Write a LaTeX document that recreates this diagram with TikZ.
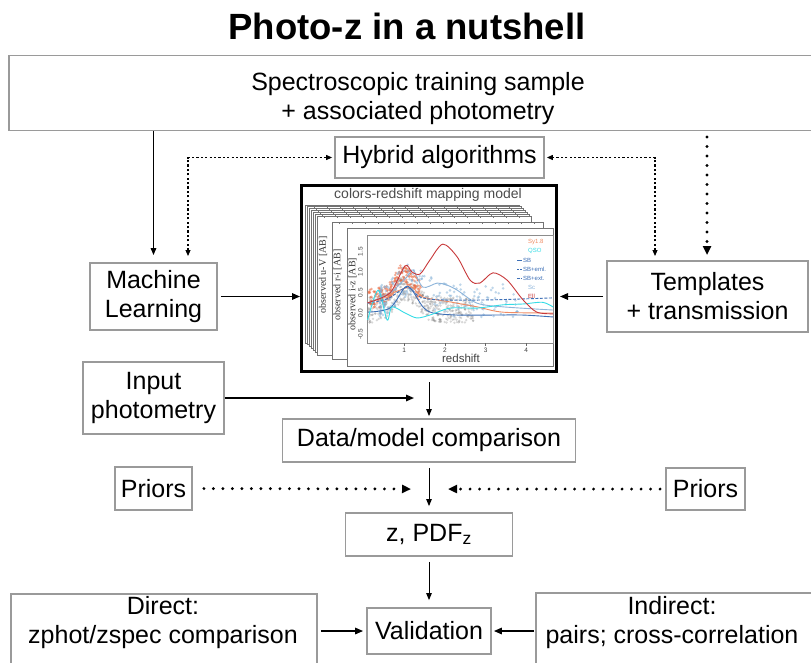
\documentclass[tikz,border=0pt]{standalone}
\usepackage{fontspec}
\setmainfont{Liberation Sans}
\newfontfamily\serifaxis{Liberation Serif}
\usetikzlibrary{arrows.meta,calc}
\definecolor{boxgray}{HTML}{9A9A9A}
\definecolor{ellred}{HTML}{C8393B}
\definecolor{qsocyan}{HTML}{35DCE6}
\definecolor{sbblue}{HTML}{3D6FB6}
\definecolor{scblue}{HTML}{8DB4DA}
\definecolor{syorange}{HTML}{F08C64}
\definecolor{ptorange}{HTML}{EC6A40}
\definecolor{ptblue}{HTML}{7FAED6}
\tikzset{
  box/.style={draw=boxgray, line width=1.8pt, fill=white, align=center, inner sep=0pt,
              font=\fontsize{25}{29}\selectfont},
  txt/.style={align=center, inner sep=0pt, font=\fontsize{25}{29}\selectfont},
  arr/.style={-{Triangle[length=8pt,width=6.5pt]}, line width=1.5pt},
  tarr/.style={-{Triangle[length=7pt,width=5.5pt]}, line width=1pt},
  dsh/.style={line width=1.1pt, dash pattern=on 2.2pt off 2.2pt,
              {Triangle[length=6pt,width=5pt]}-{Triangle[length=6pt,width=5pt]}},
  dots/.style={line width=3.2pt, line cap=round, dash pattern=on 0pt off 9.5pt,
               -{Triangle[length=9pt,width=8pt]}},
  layer/.style={fill=white, draw=black!55, line width=0.7pt},
  crv/.style={line width=0.9pt, smooth},
  leg/.style={font=\fontsize{6}{6}\selectfont, inner sep=0pt, anchor=west},
  axl/.style={rotate=90, font=\serifaxis\fontsize{10}{10}\selectfont, text=black!80, inner sep=0pt},
  tkl/.style={font=\fontsize{6.5}{6.5}\selectfont, text=black!75, inner sep=0pt}
}
\begin{document}
\begin{tikzpicture}[x=1pt,y=-1pt]
\useasboundingbox (0,0) rectangle (811,662);
\clip (0,0) rectangle (811,662);

% title
\node[font=\fontsize{36.5}{40}\selectfont\bfseries] (title) at (407,26) {Photo-z in a nutshell};

% boxes
\node[box, minimum width=818, minimum height=75] (top) at (418,93) {};
\node[txt] (toptxt) at (418,99) {Spectroscopic training sample\\+ associated photometry};
\node[box, minimum width=209, minimum height=41] (hyb) at (439.5,157.5) {Hybrid algorithms};
\node[box, minimum width=127, minimum height=67] (ml) at (153.5,296.5) {Machine\\Learning};
\node[box, minimum width=201, minimum height=71] (tmp) at (707.5,296.5) {Templates\\+ transmission};
\node[box, minimum width=141, minimum height=72] (inp) at (153.5,398) {Input\\photometry};
\node[box, minimum width=293, minimum height=43] (dm) at (429,440.5) {Data/model comparison};
\node[box, minimum width=77, minimum height=43] (prl) at (153.5,488.5) {Priors};
\node[box, minimum width=79, minimum height=42] (prr) at (705.5,489) {Priors};
\node[box, minimum width=167, minimum height=43] (zp) at (429,534.5) {z, PDF\textsubscript{z}};
\node[box, minimum width=124, minimum height=46] (val) at (429,631) {Validation};
\node[box, minimum width=306, minimum height=100, anchor=north west] (dirbox) at (10,593) {};
\node[txt] (dirtxt) at (163,623) {Direct:\\zphot/zspec comparison};
\node[box, minimum width=300, minimum height=100, anchor=north west] (indbox) at (535,592) {};
\node[txt] (indtxt) at (672,623) {Indirect:\\pairs; cross-correlation};

% ---------- figure ----------
\node[draw=black, line width=3pt, fill=white, minimum width=255, minimum height=186, inner sep=0pt] (fig) at (429,278.5) {};
\node[font=\fontsize{14}{14}\selectfont, text=black!70, inner sep=0pt] (figtitle) at (428,195) {colors-redshift mapping model};
% back layers
\foreach \i in {0,...,5}{
  \draw[layer] (305+2*\i,205+1.8*\i) rectangle (519+2*\i,343+1.8*\i);
  \foreach \t in {0,...,15}{
    \draw[black!55, line width=0.5pt] (312+2*\i+13*\t,205+1.8*\i) -- ++(0,2.2);
  }
}
\draw[layer] (317,216) rectangle (531,355);
\foreach \t in {0,...,15}{\draw[black!55, line width=0.5pt] (324+13*\t,216) -- ++(0,2.2);}
\draw[layer] (332,222) rectangle (543,359);
\foreach \t in {0,...,15}{\draw[black!55, line width=0.5pt] (339+13*\t,222) -- ++(0,2.2);}
\draw[layer] (347,228) rectangle (553.5,366);
\draw[black!45, line width=0.6pt] (367,235) rectangle (553.5,343);
% axis labels
\node[axl] (lab1) at (323,275) {observed u-V [AB]};
\node[axl] (lab2) at (337.5,285) {observed r-i [AB]};
\node[axl] (lab3) at (352.5,294) {observed i-z [AB]};
\node[tkl, rotate=90] (t15) at (360.5,251.5) {1.5};
\node[tkl, rotate=90] (t10) at (360.5,272) {1.0};
\node[tkl, rotate=90] (t05) at (360.5,292.5) {0.5};
\node[tkl, rotate=90] (t00) at (360.5,313) {0.0};
\node[tkl, rotate=90] (t05m) at (360.5,334) {-0.5};
\foreach \xx/\lb in {404.2/1,444.9/2,485.6/3,526.3/4}{
  \draw[black!60, line width=0.5pt] (\xx,343) -- (\xx,346);
  \node[tkl] at (\xx,350.5) {\lb};
}
\node[font=\fontsize{11.5}{11.5}\selectfont, text=black!75, inner sep=0pt] (zlab) at (461,358.5) {redshift};

\begin{scope}[shift={(363.5,313)}, x=40.7pt, y=41pt]
  \clip (0.09,-0.73) rectangle (4.66,1.91);
  \pgfmathsetseed{11}
  \foreach \k in {1,...,420}{
    \pgfmathsetmacro\zz{0.12+2.6*rnd}
    \pgfmathsetmacro\vv{0.08+0.55*exp(-(\zz-1.05)*(\zz-1.05)/0.15)+0.32*rand}
    \fill[black!55, opacity=0.28] (\zz,\vv) circle (1.3pt);
  }
  \foreach \k in {1,...,180}{
    \pgfmathsetmacro\zz{0.12+1.3*rnd}
    \pgfmathsetmacro\vv{0.35+0.6*exp(-(\zz-1.0)*(\zz-1.0)/0.12)+0.25*rand}
    \fill[ptorange, opacity=0.55] (\zz,\vv) circle (1.4pt);
  }
  \foreach \k in {1,...,190}{
    \pgfmathsetmacro\rr{rnd}
    \pgfmathsetmacro\zz{0.4+3.4*\rr*\rr}
    \pgfmathsetmacro\vv{0.3+0.55*exp(-(\zz-1.2)*(\zz-1.2)/0.2)+0.4*rand}
    \fill[ptblue, opacity=0.5] (\zz,\vv) circle (1.4pt);
  }
  % curves
  \draw[crv, syorange] plot coordinates {(0.1,0.24) (0.5,0.4) (0.9,0.56) (1.19,0.63) (1.46,0.39) (2.13,0.27) (2.79,0.15) (3.43,0.02) (4.7,0)};
  \draw[crv, scblue] plot coordinates {(0.1,0.24) (0.65,0.49) (1.07,0.88) (1.22,1.05) (1.46,0.63) (1.81,0.73) (2.05,0.68) (2.3,0.56) (2.79,0.24) (3.43,0.15) (4.7,0.07)};
  \draw[crv, sbblue, dash pattern=on 3pt off 1.5pt] plot coordinates {(0.1,0.24) (0.6,0.35) (1.07,0.63) (1.39,0.39) (1.88,0.32) (3.1,0.32) (4.7,0.37)};
  \draw[crv, sbblue] plot coordinates {(0.1,0.02) (0.65,0.12) (1.02,0.63) (1.19,0.56) (1.46,0.15) (1.71,0) (2.3,-0.05) (3.1,-0.05) (3.92,-0.05) (4.7,-0.1)};
  \draw[crv, qsocyan] plot coordinates {(0.1,-0.17) (0.36,0.56) (0.58,-0.17) (0.7,0.15) (1.02,0) (1.31,-0.12) (1.63,-0.05) (2.13,0.12) (2.79,0.12) (3.43,0.2) (3.92,0.22) (4.41,0.26) (4.7,0.12)};
  \draw[crv, ellred] plot coordinates {(0.1,0.25) (0.65,0.49) (1.02,1.15) (1.19,1.0) (1.39,0.95) (1.63,1.29) (1.95,1.68) (2.3,1.37) (2.62,0.8) (2.86,0.73) (3.18,0.98) (3.53,0.8) (3.92,0.32) (4.26,0.02) (4.7,-0.02)};
\end{scope}
% legend
\node[leg, text=syorange] (l1) at (528,242) {Sy1.8};
\node[leg, text=qsocyan] (l2) at (528,251) {QSO};
\draw[sbblue, line width=0.8pt] (517,260) -- (522,260);
\node[leg, text=sbblue] (l3) at (523,260) {SB};
\draw[sbblue, line width=0.8pt, dash pattern=on 1.5pt off 1.5pt] (517,269) -- (522,269);
\node[leg, text=sbblue] (l4) at (523,269) {SB+eml.};
\draw[sbblue, line width=0.8pt, dash pattern=on 2.5pt off 1pt] (517,278) -- (522,278);
\node[leg, text=sbblue] (l5) at (523,278) {SB+ext.};
\node[leg, text=scblue] (l6) at (528,287) {Sc};
\node[leg, text=ellred] (l7) at (528,296) {Ell};

% ---------- connectors ----------
\draw[tarr, line width=1.4pt] (top.south -| ml.north) -- ([yshift=7pt]ml.north);
\coordinate (mlh) at (188,256);
\coordinate (tmh) at (655,256);
\draw[dsh] (mlh) |- ([xshift=-2pt]hyb.west);
\draw[dsh] (tmh) |- ([xshift=2pt]hyb.east);
\coordinate (topdot) at (707,137);
\coordinate (tmpdot) at (707,255);
\draw[dots] (topdot) -- (tmpdot);
\draw[arr, shorten <=3pt] (ml.east) -- (ml.east -| fig.west);
\draw[arr, shorten <=3pt, shorten >=2pt] (tmp.west) -- (tmp.west -| fig.east);
\coordinate (inpend) at (414,398);
\draw[arr] (inp.east) -- (inpend);
\draw[tarr, shorten <=9pt, shorten >=2pt] (fig.south) -- (dm.north);
\draw[tarr, shorten <=5pt, shorten >=6pt] (dm.south) -- (zp.north);
\coordinate (prlend) at (411,489);
\coordinate (prrend) at (448,489);
\draw[dots, shorten <=11pt] (prl.east) -- (prlend);
\draw[dots, shorten <=5pt] (prr.west) -- (prrend);
\draw[tarr, shorten <=5pt, shorten >=7pt] (zp.south) -- (val.north);
\draw[arr, shorten <=3pt, shorten >=3pt] (val.west -| dirbox.east) -- (val.west);
\draw[arr, shorten <=1pt, shorten >=2pt] (val.east -| indbox.west) -- (val.east);
\end{tikzpicture}
\end{document}
